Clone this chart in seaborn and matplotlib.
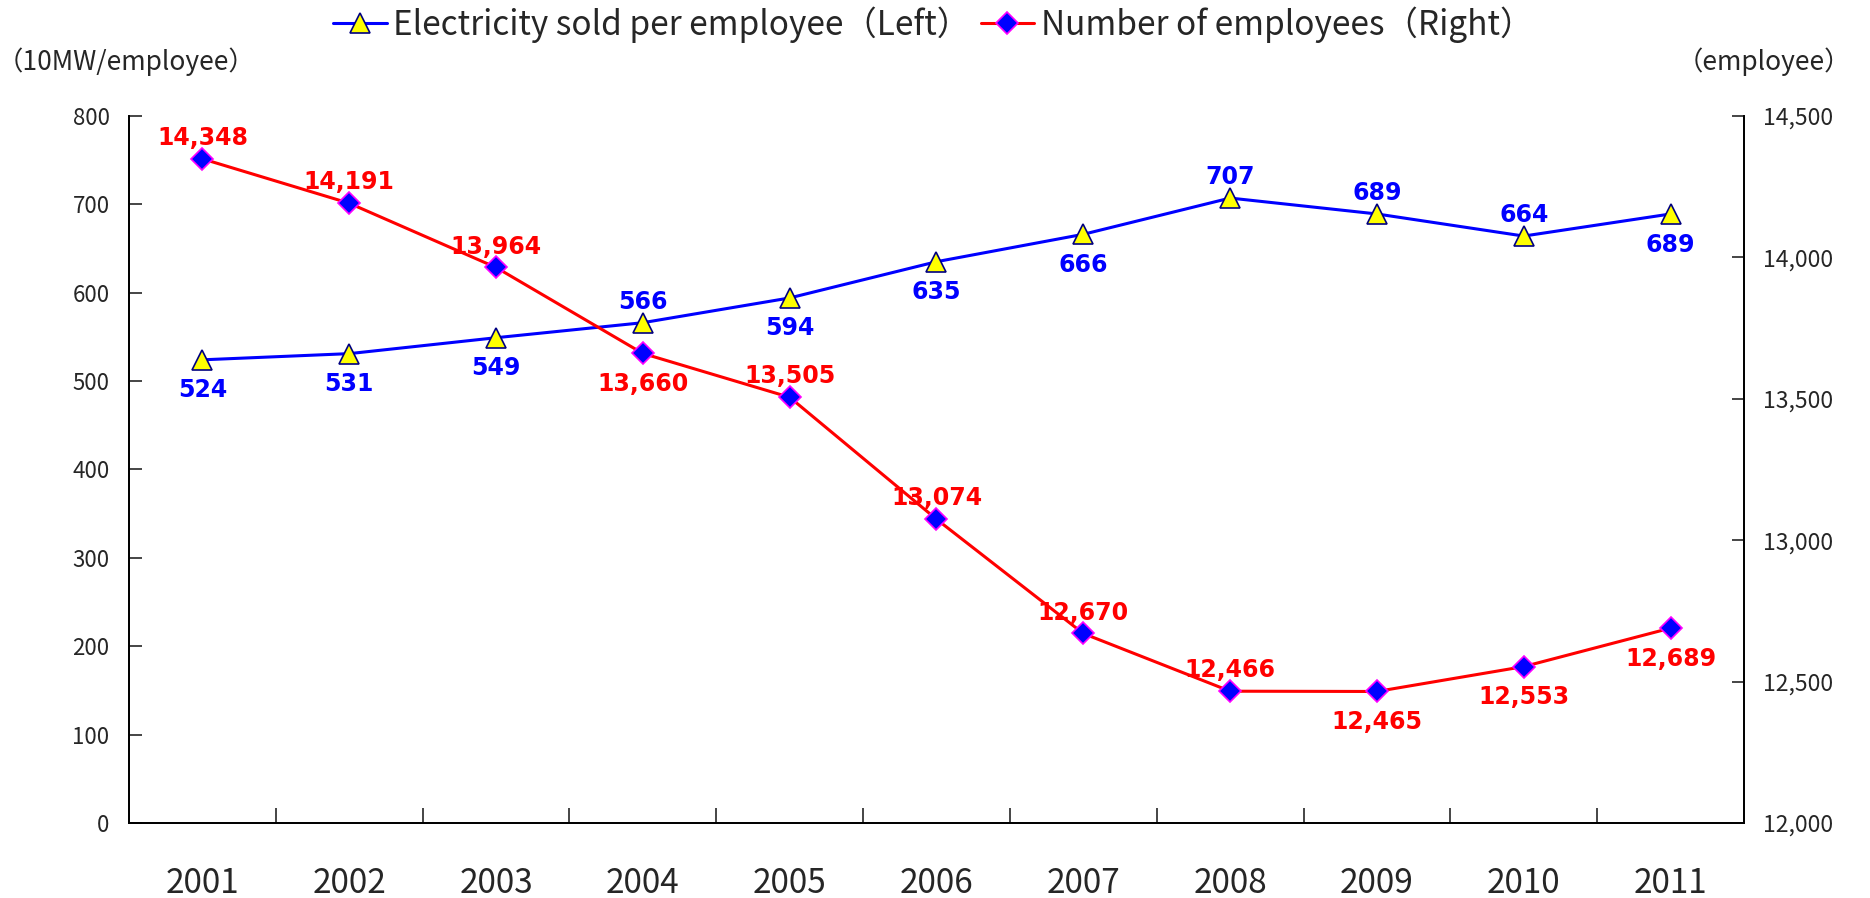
import matplotlib
matplotlib.use("Agg")
import matplotlib.pyplot as plt
import seaborn as sns
import pandas as pd
from matplotlib.ticker import FuncFormatter, FixedLocator

years = ["2001", "2002", "2003", "2004", "2005", "2006", "2007", "2008", "2009", "2010", "2011"]
electricity_per_employee = [524, 531, 549, 566, 594, 635, 666, 707, 689, 664, 689]
employees = [14348, 14191, 13964, 13660, 13505, 13074, 12670, 12466, 12465, 12553, 12689]

# label placement: +1 above the point, -1 below
elec_label_side = [-1, -1, -1, 1, -1, -1, -1, 1, 1, 1, -1]
emp_label_side = [1, 1, 1, -1, 1, 1, 1, 1, -1, -1, -1]

sns.set_style("ticks")
plt.rcParams["font.family"] = ["Noto Sans CJK JP", "DejaVu Sans"]

df = pd.DataFrame({"year": years, "elec": electricity_per_employee, "emp": employees})

fig = plt.figure(figsize=(18.7, 8.98), dpi=100)
ax = fig.add_axes([0.069, 0.0835, 0.8636, 0.7875])
ax2 = ax.twinx()

blue = "#0000FF"
red = "#FF0000"

sns.lineplot(data=df, x="year", y="elec", ax=ax, color=blue, linewidth=2.2,
             marker="^", markersize=14, markerfacecolor="#FFFF00",
             markeredgecolor="#000080", markeredgewidth=1.2,
             label="Electricity sold per employee（Left）", legend=False, sort=False)
sns.lineplot(data=df, x="year", y="emp", ax=ax2, color=red, linewidth=2.2,
             marker="D", markersize=11, markerfacecolor="#0000FF",
             markeredgecolor="#FF00FF", markeredgewidth=1.2,
             label="Number of employees（Right）", legend=False, sort=False)

ax.set_xlim(-0.5, len(years) - 0.5)
ax.set_ylim(0, 800)
ax2.set_ylim(12000, 14500)
ax.set_yticks(range(0, 801, 100))
ax2.set_yticks(range(12000, 14501, 500))
ax2.yaxis.set_major_formatter(FuncFormatter(lambda v, p: f"{int(v):,}"))

ax.set_xlabel("")
ax.set_ylabel("")
ax2.set_ylabel("")

# category boundaries get the small inward ticks
ax.xaxis.set_minor_locator(FixedLocator([i + 0.5 for i in range(len(years) - 1)]))
ax.tick_params(axis="x", which="major", length=0, pad=31, labelsize=24)
ax.tick_params(axis="x", which="minor", direction="in", length=11, width=1.2)
ax.tick_params(axis="y", direction="in", length=9, width=1.2, pad=14, labelsize=16)
ax2.tick_params(axis="y", direction="in", length=9, width=1.2, pad=14, labelsize=16.5)

for a in (ax, ax2):
    for s in a.spines.values():
        s.set_linewidth(1.3)
        s.set_color("black")
ax.spines["top"].set_visible(False)
ax2.spines["top"].set_visible(False)

label_font = dict(family="DejaVu Sans", fontsize=17, fontweight="bold")


def offset(side):
    return 15 if side > 0 else -22


for i, (v, side) in enumerate(zip(electricity_per_employee, elec_label_side)):
    ax.annotate(f"{v:,}", (i, v), xytext=(0, offset(side)), textcoords="offset points",
                ha="center", va="center", color=blue, **label_font)
for i, (v, side) in enumerate(zip(employees, emp_label_side)):
    ax2.annotate(f"{v:,}", (i, v), xytext=(0, offset(side)), textcoords="offset points",
                 ha="center", va="center", color=red, **label_font)

fig.text(-0.002, 0.931, "（10MW/employee）", fontsize=19, ha="left", va="center")
fig.text(0.99, 0.931, "（employee）", fontsize=19, ha="right", va="center")

h1, l1 = ax.get_legend_handles_labels()
h2, l2 = ax2.get_legend_handles_labels()
fig.legend(h1 + h2, l1 + l2, loc="center", bbox_to_anchor=(0.499, 0.973), ncol=2,
           frameon=False, fontsize=24, handlelength=1.6, handletextpad=0.2,
           columnspacing=0.3)

fig.savefig("out.png", dpi=100, facecolor="white")
